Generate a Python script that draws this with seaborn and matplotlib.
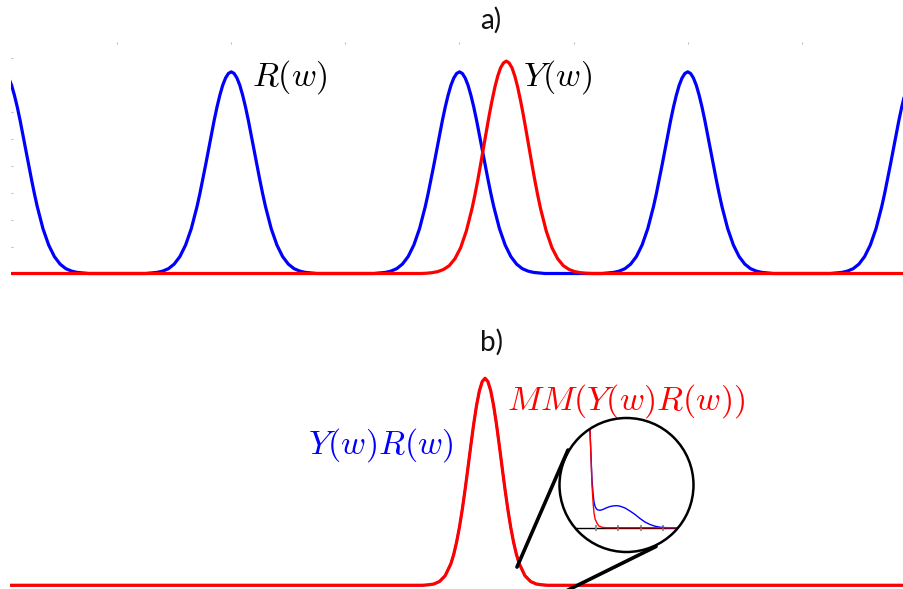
import numpy as np
import matplotlib
matplotlib.use("Agg")
import matplotlib.pyplot as plt
import seaborn as sns
from matplotlib.patches import Circle, ConnectionPatch

# ---------------------------------------------------------------------------
# Values
# ---------------------------------------------------------------------------
# one-sided distance from a peak centre (w units)
OFFSETS = [0.0, 0.025, 0.05, 0.075, 0.1, 0.125, 0.15, 0.175, 0.2, 0.225, 0.25,
           0.275, 0.3, 0.35, 0.4, 0.45, 0.5, 0.55, 0.6, 0.65, 0.7, 0.75]
# panel a: one tooth of the comb R(w) and the pulse Y(w)
R_PROFILE = [0.75, 0.744, 0.727, 0.70, 0.663, 0.619, 0.569, 0.515, 0.459, 0.403, 0.349,
             0.297, 0.249, 0.167, 0.106, 0.063, 0.035, 0.018, 0.009, 0.004, 0.002, 0.0]
Y_PROFILE = [0.79, 0.783, 0.765, 0.734, 0.693, 0.643, 0.588, 0.528, 0.467, 0.406, 0.347,
             0.292, 0.242, 0.158, 0.096, 0.055, 0.029, 0.015, 0.007, 0.003, 0.001, 0.0]
R_CENTRES = [0.0, 2.0, 4.0, 6.0, 8.0]
Y_CENTRE = 4.41
# panel b: product Y(w)R(w) and its fit MM(...), normalised
YR_PROFILE = [1.0, 0.984, 0.939, 0.868, 0.778, 0.675, 0.568, 0.463, 0.366, 0.280, 0.208,
              0.149, 0.104, 0.046, 0.018, 0.006, 0.002, 0.0, 0.0, 0.0, 0.0, 0.0]
YR_CENTRE = 4.22
W_RANGE = [0.0, 8.0]

# zoomed tail shown in the circle
INSET_X_RED = [0.69, 0.73, 0.78, 0.82, 0.87, 0.91, 0.96, 1.05, 1.13, 1.27, 1.45, 5.66]
INSET_RED = [12.77, 9.77, 6.77, 4.27, 2.47, 1.47, 0.87, 0.42, 0.17, 0.04, 0.0, 0.0]
INSET_X_BLUE = [0.69, 0.73, 0.78, 0.82, 0.87, 0.91, 0.96, 1.02, 1.09, 1.18, 1.31, 1.45,
                1.63, 1.81, 1.94, 2.08, 2.30, 2.52, 2.75, 2.97, 3.19, 3.42, 3.64, 3.87,
                4.09, 4.31, 5.66]
INSET_BLUE = [12.77, 9.77, 6.97, 4.77, 3.37, 2.57, 2.12, 1.87, 1.77, 1.74, 1.82, 1.97,
              2.12, 2.19, 2.20, 2.15, 1.97, 1.67, 1.32, 0.92, 0.57, 0.32, 0.15, 0.05,
              0.01, 0.0, 0.0]
INSET_TICKS = [1, 2, 3, 4]

BLUE = "#0000FF"
RED = "#FF0000"
W, H = 904, 589


def peak(centre, profile):
    xs = [centre - o for o in OFFSETS[::-1]] + [centre + o for o in OFFSETS[1:]]
    ys = list(profile[::-1]) + list(profile[1:])
    return xs, ys


def rect(x0, y0, x1, y1):
    """pixel box (top-left origin) -> figure fraction"""
    return [x0 / W, 1 - y1 / H, (x1 - x0) / W, (y1 - y0) / H]


sns.set_style("white")
plt.rcParams.update({
    "mathtext.fontset": "cm",
    "text.color": "black",
})
MATH_SIZE = 24.5

fig = plt.figure(figsize=(W / 100, H / 100), dpi=100)

# ---------------------------------------------------------------- panel a
ax_a = fig.add_axes(rect(11, 42, 904, 276))
comb_x, comb_y = [], []
for c in R_CENTRES:
    xs, ys = peak(c, R_PROFILE)
    comb_x += xs
    comb_y += ys
sns.lineplot(x=comb_x, y=comb_y, ax=ax_a, color=BLUE, lw=2.3,
             sort=False, estimator=None)
yx, yy = peak(Y_CENTRE, Y_PROFILE)
sns.lineplot(x=[W_RANGE[0]] + yx + [W_RANGE[1]], y=[0.0] + yy + [0.0], ax=ax_a,
             color=RED, lw=2.3, sort=False, estimator=None)
ax_a.set_xlim(0.07, 7.895)
ax_a.set_ylim(-0.0093, 0.861)
ax_a.set_xticks(range(1, 8))
ax_a.set_yticks([0.1, 0.2, 0.3, 0.4, 0.5, 0.6, 0.7, 0.8])
ax_a.tick_params(direction="in", length=1.5, width=0.5, color="#9a9a9a",
                 top=True, bottom=False, left=True, right=False,
                 labelbottom=False, labelleft=False)
for s in ax_a.spines.values():
    s.set_visible(False)
ax_a.text(2.184, 0.730, r"$R(w)$", fontsize=MATH_SIZE, color="black",
          ha="left", va="center")
ax_a.text(4.553, 0.730, r"$Y(w)$", fontsize=MATH_SIZE, color="black",
          ha="left", va="center")

# ---------------------------------------------------------------- panel b
ax_b = fig.add_axes(rect(10, 365, 904, 589))
bx, by = peak(YR_CENTRE, YR_PROFILE)
bx = [W_RANGE[0]] + bx + [W_RANGE[1]]
by = [0.0] + by + [0.0]
sns.lineplot(x=bx, y=by, ax=ax_b, color=BLUE, lw=1.6, sort=False, estimator=None)
sns.lineplot(x=bx, y=by, ax=ax_b, color=RED, lw=2.3, sort=False, estimator=None)
ax_b.set_xlim(0.0526, 7.895)
ax_b.set_ylim(-0.018, 1.064)
ax_b.set_xticks([])
ax_b.set_yticks([])
for s in ax_b.spines.values():
    s.set_visible(False)
ax_b.text(2.667, 0.678, r"$Y(w)R(w)$", fontsize=MATH_SIZE, color=BLUE,
          ha="left", va="center")
ax_b.text(4.412, 0.890, r"$MM(Y(w)R(w))$", fontsize=MATH_SIZE, color=RED,
          ha="left", va="center")

# ---------------------------------------------------------------- circular zoom
ax_in = fig.add_axes(rect(559.5, 418, 693.5, 552))
ax_in.patch.set_alpha(0)
sns.lineplot(x=INSET_X_BLUE, y=INSET_BLUE, ax=ax_in, color=BLUE, lw=1.0,
             sort=False, estimator=None)
sns.lineplot(x=INSET_X_RED, y=INSET_RED, ax=ax_in, color=RED, lw=1.0,
             sort=False, estimator=None)
ax_in.set_xlim(-0.635, 5.366)
ax_in.set_ylim(-2.43, 10.97)
ax_in.set_xticks(INSET_TICKS)
ax_in.set_yticks([])
ax_in.tick_params(axis="x", direction="inout", length=4, width=1.3,
                  color="#8c8c8c", labelbottom=False, bottom=True)
for k in ("top", "left", "right"):
    ax_in.spines[k].set_visible(False)
ax_in.spines["bottom"].set_position(("data", 0))
ax_in.spines["bottom"].set_linewidth(1.0)
ax_in.spines["bottom"].set_color("black")
ax_in.spines["bottom"].set_zorder(0.5)
for t in ax_in.xaxis.get_major_ticks():
    t.tick1line.set_zorder(4)

circ = Circle((0.5, 0.5), 0.5, transform=ax_in.transAxes, fill=False,
              ec="black", lw=1.8, clip_on=False, zorder=5)
ax_in.add_patch(circ)
for ln in ax_in.lines:
    ln.set_clip_path(circ)
ax_in.spines["bottom"].set_clip_path(circ)

# connector lines from the tail in panel b to the circle
for xy_b, xy_c in [((4.50, 0.088), (0.063, 0.761)),
                   ((4.94, -0.025), (0.720, 0.041))]:
    con = ConnectionPatch(xyA=xy_b, coordsA=ax_b.transData,
                          xyB=xy_c, coordsB=ax_in.transAxes,
                          color="black", lw=2.6)
    fig.add_artist(con)

# panel titles
for y_px, label in [(20, "a)"), (342, "b)")]:
    fig.text(491 / W, 1 - y_px / H, label, fontsize=20, fontfamily="Lato",
             color="#111111", ha="center", va="center")

fig.savefig("out.png", dpi=100)
